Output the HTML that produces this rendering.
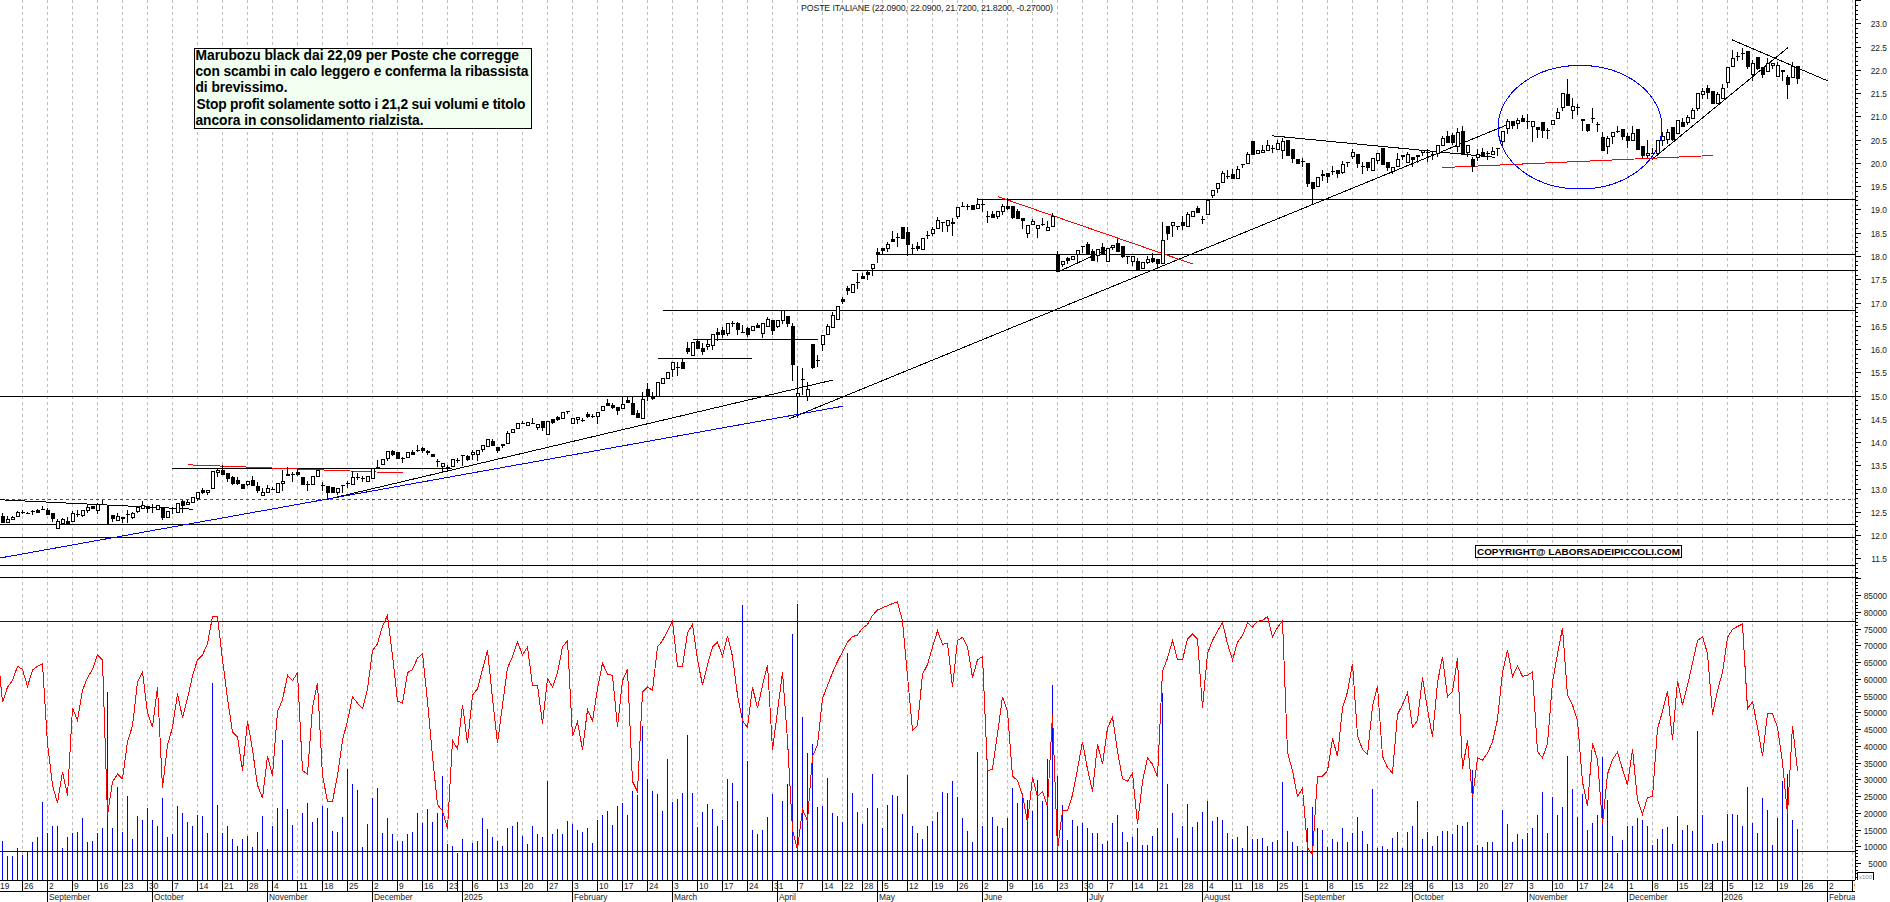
<!DOCTYPE html><html><head><meta charset="utf-8"><style>html,body{margin:0;padding:0;background:#fff;width:1890px;height:902px;overflow:hidden}svg{display:block}text{font-family:"Liberation Sans",sans-serif}</style></head><body>
<svg width="1890" height="902" viewBox="0 0 1890 902">
<rect x="0" y="0" width="1890" height="902" fill="#fff"/>
<path d="M22.5 0V880M47.5 0V880M72.5 0V880M97.5 0V880M122.5 0V880M147.5 0V880M172.5 0V880M197.5 0V880M222.5 0V880M247.5 0V880M272.5 0V880M297.5 0V880M322.5 0V880M347.5 0V880M372.5 0V880M397.5 0V880M422.5 0V880M447.5 0V880M472.5 0V880M497.5 0V880M522.5 0V880M547.5 0V880M572.5 0V880M597.5 0V880M622.5 0V880M647.5 0V880M672.5 0V880M697.5 0V880M722.5 0V880M747.5 0V880M772.5 0V880M797.5 0V880M822.5 0V880M842.5 0V880M862.5 0V880M882.5 0V880M907.5 0V880M932.5 0V880M957.5 0V880M982.5 0V880M1007.5 0V880M1032.5 0V880M1057.5 0V880M1082.5 0V880M1107.5 0V880M1132.5 0V880M1157.5 0V880M1182.5 0V880M1207.5 0V880M1232.5 0V880M1252.5 0V880M1277.5 0V880M1302.5 0V880M1327.5 0V880M1352.5 0V880M1377.5 0V880M1402.5 0V880M1427.5 0V880M1452.5 0V880M1477.5 0V880M1502.5 0V880M1527.5 0V880M1552.5 0V880M1577.5 0V880M1602.5 0V880M1627.5 0V880M1652.5 0V880M1677.5 0V880M1702.5 0V880M1727.5 0V880M1752.5 0V880M1777.5 0V880M1802.5 0V880M1827.5 0V880M1852.5 0V880" stroke="#bdbdbd" stroke-width="1" stroke-dasharray="3 3" fill="none" shape-rendering="crispEdges"/>
<path d="M0 396.5H1855M0 524.5H1855M0 537.5H1855M0 565.5H1855M0 577.5H1855M663 310.5H1855M977 199.5H1855M877 254.5H1855M852 270.5H1855M693 339.5H818M658 358.5H752M172 468.5H452" stroke="#000" stroke-width="1" fill="none" shape-rendering="crispEdges"/>
<path d="M0 499.5H1855" stroke="#f00" stroke-width="1" stroke-dasharray="3 3" fill="none" shape-rendering="crispEdges"/>
<line x1="0" y1="499.78" x2="193" y2="509.2" stroke="#000" stroke-width="1" shape-rendering="crispEdges"/>
<line x1="328" y1="499.2" x2="833" y2="380" stroke="#000" stroke-width="1" shape-rendering="crispEdges"/>
<line x1="788.5" y1="419.1" x2="1507" y2="124.9" stroke="#000" stroke-width="1" shape-rendering="crispEdges"/>
<line x1="1059.5" y1="271.2" x2="1113" y2="246.7" stroke="#000" stroke-width="1" shape-rendering="crispEdges"/>
<line x1="1272" y1="135.8" x2="1495" y2="157.3" stroke="#000" stroke-width="1" shape-rendering="crispEdges"/>
<line x1="1652" y1="159.4" x2="1788" y2="47.6" stroke="#000" stroke-width="1" shape-rendering="crispEdges"/>
<line x1="1732" y1="39.8" x2="1828" y2="81" stroke="#000" stroke-width="1" shape-rendering="crispEdges"/>
<line x1="0" y1="558" x2="843" y2="406.2" stroke="#00f" stroke-width="1" shape-rendering="crispEdges"/>
<line x1="188" y1="464.8" x2="402.5" y2="473" stroke="#f00" stroke-width="1" shape-rendering="crispEdges"/>
<line x1="998" y1="196.7" x2="1193" y2="264.1" stroke="#f00" stroke-width="1" shape-rendering="crispEdges"/>
<line x1="1442" y1="167.6" x2="1713" y2="155.5" stroke="#f00" stroke-width="1" shape-rendering="crispEdges"/>
<ellipse cx="1580" cy="127.2" rx="82" ry="61.8" fill="none" stroke="#00f" stroke-width="1" shape-rendering="crispEdges"/>
<g shape-rendering="crispEdges">
<path d="M2.5 513V516M7.5 516V519M12.5 516V517M17.5 511V512M22.5 510V512M22.5 512V514M27.5 512V513M32.5 510V511M32.5 511V515M37.5 509V510M42.5 506V509M47.5 508V510M52.5 518V522M57.5 519V521M62.5 518V519M67.5 517V521M67.5 523V525M72.5 511V513M77.5 510V514M77.5 514V517M82.5 515V517M87.5 505V507M87.5 510V513M97.5 503V504M97.5 510V514M102.5 500V504M112.5 518V522M117.5 513V516M122.5 518V523M127.5 510V514M127.5 514V523M132.5 512V513M132.5 517V519M137.5 511V513M142.5 501V505M147.5 508V513M152.5 504V507M152.5 507V513M162.5 517V520M172.5 507V508M172.5 508V514M182.5 500V501M182.5 505V513M187.5 500V502M197.5 498V501M202.5 488V490M202.5 492V494M207.5 492V495M217.5 468V470M217.5 472V477M222.5 465V470M227.5 478V482M232.5 476V477M232.5 483V485M237.5 477V480M237.5 483V485M247.5 484V486M252.5 476V480M257.5 482V486M257.5 490V493M262.5 488V492M267.5 485V488M272.5 487V489M282.5 470V481M282.5 483V491M287.5 467V474M292.5 472V474M292.5 474V482M297.5 469V472M297.5 474V476M307.5 481V484M307.5 484V491M322.5 482V485M322.5 485V491M327.5 492V500M337.5 492V495M342.5 485V493M347.5 481V483M347.5 483V488M352.5 471V477M357.5 473V477M357.5 477V480M362.5 476V478M362.5 478V482M377.5 460V467M387.5 458V461M392.5 450V451M392.5 454V456M402.5 457V458M402.5 458V463M412.5 450V452M417.5 445V450M417.5 450V452M422.5 447V448M422.5 450V453M427.5 450V451M427.5 452V455M437.5 459V461M437.5 461V467M442.5 466V473M447.5 465V467M447.5 467V472M457.5 458V460M457.5 460V463M462.5 455V466M467.5 455V456M467.5 459V461M472.5 450V452M472.5 454V460M477.5 454V461M482.5 449V452M492.5 439V441M497.5 450V453M502.5 445V448M507.5 431V433M522.5 421V423M532.5 418V423M537.5 427V430M542.5 427V431M552.5 422V424M557.5 416V417M557.5 419V421M567.5 411V414M577.5 418V424M582.5 418V420M582.5 420V422M587.5 412V414M587.5 416V418M592.5 414V416M592.5 416V418M597.5 416V424M607.5 399V403M612.5 403V405M612.5 407V409M617.5 410V415M622.5 397V404M627.5 396V400M632.5 397V403M637.5 410V413M642.5 392V399M647.5 383V389M647.5 396V401M652.5 392V396M652.5 398V400M672.5 369V377M677.5 362V367M677.5 367V376M682.5 358V362M687.5 342V348M687.5 351V354M697.5 340V341M702.5 343V348M702.5 351V355M707.5 339V344M707.5 346V350M712.5 345V350M717.5 328V332M717.5 334V341M722.5 327V330M722.5 334V338M727.5 333V336M732.5 321V323M732.5 323V327M737.5 322V323M737.5 329V335M742.5 325V332M747.5 327V328M747.5 334V337M757.5 323V325M762.5 333V338M767.5 317V319M772.5 330V335M777.5 326V328M782.5 320V324M787.5 323V327M792.5 323V326M792.5 364V381M797.5 366V393M797.5 396V418M802.5 368V379M802.5 379V395M807.5 382V389M807.5 396V401M812.5 367V369M817.5 355V360M817.5 360V367M822.5 344V351M827.5 324V326M832.5 312V315M842.5 297V299M842.5 301V304M847.5 286V288M847.5 290V295M857.5 273V282M857.5 282V289M862.5 273V276M867.5 271V272M867.5 274V280M872.5 268V276M877.5 248V252M877.5 254V263M882.5 250V255M887.5 242V244M887.5 248V252M892.5 231V239M897.5 233V237M897.5 237V247M907.5 227V232M907.5 244V256M912.5 244V248M912.5 248V254M917.5 242V246M917.5 248V251M927.5 231V235M927.5 235V239M932.5 227V229M932.5 233V236M937.5 217V220M942.5 222V232M947.5 225V232M952.5 218V222M952.5 223V236M957.5 216V219M962.5 202V206M967.5 204V206M967.5 206V210M977.5 198V204M982.5 199V204M982.5 204V212M987.5 211V216M987.5 216V223M992.5 211V214M997.5 216V219M1002.5 204V206M1002.5 211V215M1007.5 198V206M1007.5 208V210M1012.5 217V219M1017.5 209V211M1022.5 220V229M1027.5 233V238M1032.5 219V221M1037.5 228V238M1042.5 218V224M1042.5 224V226M1047.5 221V227M1052.5 213V216M1057.5 251V255M1062.5 264V267M1067.5 257V258M1067.5 260V264M1077.5 254V264M1082.5 246V253M1087.5 242V244M1092.5 249V251M1097.5 255V262M1102.5 243V247M1112.5 247V250M1117.5 239V243M1122.5 256V258M1127.5 256V264M1132.5 261V266M1137.5 258V261M1147.5 256V259M1147.5 262V264M1152.5 253V258M1152.5 261V263M1157.5 263V268M1162.5 222V240M1167.5 233V240M1172.5 225V237M1177.5 226V230M1182.5 216V222M1182.5 225V230M1187.5 212V214M1197.5 206V208M1202.5 216V219M1202.5 219V224M1212.5 195V198M1217.5 188V193M1222.5 171V173M1227.5 170V176M1227.5 176V179M1232.5 169V174M1237.5 166V169M1242.5 164V168M1247.5 152V154M1262.5 145V150M1267.5 140V145M1272.5 145V148M1272.5 148V153M1277.5 140V143M1282.5 138V141M1282.5 150V159M1292.5 158V163M1302.5 158V161M1302.5 161V167M1307.5 183V187M1312.5 188V204M1322.5 170V174M1322.5 175V181M1327.5 176V183M1332.5 166V171M1332.5 171V175M1337.5 173V178M1342.5 161V164M1342.5 172V174M1347.5 162V167M1352.5 149V152M1352.5 156V159M1357.5 163V168M1362.5 162V166M1362.5 166V174M1367.5 167V171M1377.5 160V164M1387.5 167V171M1392.5 171V174M1397.5 153V159M1402.5 156V160M1407.5 152V154M1412.5 159V167M1417.5 156V163M1422.5 152V156M1427.5 149V152M1427.5 152V162M1432.5 152V154M1432.5 154V160M1437.5 153V157M1442.5 136V138M1447.5 131V136M1452.5 133V135M1452.5 142V145M1457.5 128V132M1457.5 146V152M1462.5 126V131M1467.5 152V157M1472.5 157V159M1472.5 166V172M1477.5 149V154M1477.5 157V161M1482.5 148V152M1487.5 151V153M1487.5 153V160M1492.5 147V151M1497.5 148V156M1502.5 141V146M1507.5 119V121M1507.5 128V134M1512.5 125V129M1517.5 118V120M1517.5 123V129M1522.5 115V118M1527.5 114V121M1527.5 121V129M1532.5 126V142M1537.5 129V138M1542.5 130V138M1547.5 128V130M1547.5 130V139M1557.5 108V112M1562.5 107V111M1567.5 79V94M1572.5 98V106M1572.5 110V119M1577.5 104V107M1577.5 107V115M1582.5 120V131M1587.5 130V132M1592.5 108V118M1592.5 118V123M1597.5 122V124M1597.5 124V132M1602.5 132V137M1607.5 136V138M1607.5 146V154M1612.5 136V144M1617.5 126V131M1617.5 131V133M1622.5 136V140M1627.5 133V136M1627.5 140V148M1632.5 126V133M1642.5 155V158M1647.5 140V153M1647.5 154V158M1652.5 148V153M1662.5 132V136M1662.5 140V146M1667.5 129V132M1667.5 139V144M1672.5 139V141M1682.5 118V122M1687.5 115V117M1687.5 122V125M1692.5 108V110M1697.5 108V111M1702.5 88V91M1702.5 94V99M1707.5 85V88M1707.5 92V99M1717.5 92V94M1722.5 84V88M1727.5 82V88M1732.5 50V58M1737.5 52V56M1737.5 56V61M1742.5 48V53M1742.5 53V60M1747.5 66V69M1752.5 60V63M1752.5 74V81M1757.5 68V70M1762.5 74V78M1767.5 58V63M1772.5 65V69M1777.5 62V65M1782.5 71V81M1787.5 75V77M1787.5 84V99M1792.5 62V66M1797.5 78V84" stroke="#000" stroke-width="1" fill="none"/>
<path d="M1 516h4v7h-4zM21 512h4v1h-4zM26 513h4v1h-4zM31 511h4v1h-4zM36 510h4v3h-4zM41 509h4v1h-4zM46 510h4v5h-4zM51 513h4v6h-4zM66 521h4v3h-4zM76 514h4v1h-4zM91 506h4v3h-4zM101 504h4v1h-4zM107 505h2v19h-2zM111 515h4v4h-4zM121 517h4v2h-4zM126 514h4v1h-4zM146 506h4v3h-4zM151 507h4v1h-4zM161 507h4v11h-4zM171 508h4v1h-4zM181 501h4v5h-4zM201 490h4v3h-4zM221 470h4v5h-4zM226 473h4v6h-4zM231 477h4v7h-4zM236 480h4v4h-4zM241 484h4v5h-4zM251 480h4v6h-4zM256 486h4v5h-4zM271 489h4v1h-4zM286 474h4v2h-4zM291 474h4v1h-4zM296 472h4v3h-4zM301 477h4v8h-4zM306 484h4v1h-4zM321 485h4v1h-4zM326 486h4v7h-4zM331 487h4v6h-4zM341 485h4v1h-4zM346 483h4v1h-4zM356 477h4v1h-4zM361 478h4v1h-4zM376 467h4v2h-4zM391 451h4v4h-4zM396 452h4v7h-4zM401 458h4v1h-4zM411 452h4v3h-4zM416 450h4v1h-4zM421 448h4v3h-4zM426 451h4v2h-4zM431 454h4v3h-4zM436 461h4v1h-4zM446 467h4v1h-4zM456 460h4v1h-4zM461 455h4v1h-4zM466 456h4v4h-4zM491 441h4v5h-4zM496 447h4v4h-4zM501 444h4v2h-4zM521 423h4v1h-4zM531 423h4v1h-4zM541 421h4v7h-4zM551 419h4v4h-4zM556 417h4v3h-4zM566 411h4v1h-4zM581 420h4v1h-4zM586 414h4v3h-4zM591 416h4v1h-4zM606 403h4v3h-4zM611 405h4v3h-4zM616 407h4v4h-4zM626 400h4v3h-4zM631 403h4v12h-4zM636 413h4v5h-4zM646 389h4v8h-4zM651 396h4v3h-4zM676 367h4v1h-4zM681 362h4v7h-4zM686 348h4v4h-4zM696 341h4v8h-4zM701 348h4v4h-4zM716 332h4v3h-4zM721 330h4v5h-4zM731 323h4v1h-4zM736 323h4v7h-4zM741 332h4v1h-4zM746 328h4v7h-4zM756 325h4v3h-4zM771 320h4v11h-4zM786 316h4v8h-4zM791 326h4v39h-4zM801 379h4v1h-4zM811 344h4v24h-4zM816 360h4v1h-4zM841 299h4v3h-4zM846 288h4v3h-4zM856 282h4v1h-4zM861 276h4v3h-4zM866 272h4v3h-4zM876 252h4v3h-4zM881 248h4v3h-4zM891 239h4v3h-4zM896 237h4v1h-4zM901 227h4v12h-4zM906 232h4v13h-4zM911 248h4v1h-4zM916 246h4v3h-4zM926 235h4v1h-4zM941 222h4v1h-4zM951 222h4v2h-4zM961 206h4v1h-4zM966 206h4v1h-4zM971 205h4v5h-4zM981 204h4v1h-4zM986 216h4v1h-4zM991 214h4v4h-4zM1006 206h4v3h-4zM1011 206h4v12h-4zM1016 211h4v8h-4zM1021 218h4v3h-4zM1041 224h4v1h-4zM1056 255h4v17h-4zM1066 258h4v3h-4zM1081 246h4v1h-4zM1086 244h4v11h-4zM1091 251h4v10h-4zM1101 247h4v8h-4zM1116 243h4v9h-4zM1121 246h4v11h-4zM1126 256h4v1h-4zM1136 261h4v9h-4zM1151 258h4v4h-4zM1156 259h4v5h-4zM1166 226h4v8h-4zM1176 226h4v1h-4zM1181 222h4v4h-4zM1196 208h4v5h-4zM1201 219h4v1h-4zM1226 176h4v1h-4zM1231 174h4v5h-4zM1241 164h4v1h-4zM1251 141h4v14h-4zM1271 148h4v1h-4zM1286 140h4v16h-4zM1291 149h4v10h-4zM1296 159h4v5h-4zM1301 161h4v1h-4zM1306 163h4v21h-4zM1311 182h4v7h-4zM1321 174h4v2h-4zM1326 173h4v4h-4zM1331 171h4v1h-4zM1336 170h4v4h-4zM1346 162h4v1h-4zM1356 154h4v10h-4zM1361 166h4v1h-4zM1366 162h4v6h-4zM1381 148h4v17h-4zM1386 162h4v6h-4zM1401 155h4v2h-4zM1411 157h4v3h-4zM1416 155h4v2h-4zM1426 152h4v1h-4zM1431 154h4v1h-4zM1446 136h4v7h-4zM1451 135h4v8h-4zM1461 131h4v23h-4zM1471 159h4v8h-4zM1481 152h4v5h-4zM1486 153h4v1h-4zM1496 148h4v1h-4zM1511 121h4v5h-4zM1521 118h4v4h-4zM1526 121h4v1h-4zM1536 127h4v3h-4zM1541 122h4v9h-4zM1546 130h4v1h-4zM1566 94h4v12h-4zM1576 107h4v1h-4zM1581 119h4v2h-4zM1586 124h4v7h-4zM1591 118h4v1h-4zM1596 124h4v1h-4zM1601 137h4v14h-4zM1616 131h4v1h-4zM1621 129h4v8h-4zM1626 136h4v5h-4zM1636 129h4v21h-4zM1641 146h4v10h-4zM1651 153h4v1h-4zM1671 127h4v13h-4zM1681 122h4v5h-4zM1706 88h4v5h-4zM1711 91h4v13h-4zM1736 56h4v1h-4zM1741 53h4v1h-4zM1746 51h4v16h-4zM1756 57h4v12h-4zM1761 67h4v8h-4zM1781 70h4v2h-4zM1786 77h4v8h-4zM1796 66h4v13h-4z" fill="#000"/>
<rect x="6.5" y="519.5" width="3" height="3" fill="#fff" stroke="#000" stroke-width="1"/><rect x="11.5" y="517.5" width="3" height="2" fill="#fff" stroke="#000" stroke-width="1"/><rect x="16.5" y="512.5" width="3" height="4" fill="#fff" stroke="#000" stroke-width="1"/><rect x="56.5" y="521.5" width="3" height="7" fill="#fff" stroke="#000" stroke-width="1"/><rect x="61.5" y="519.5" width="3" height="4" fill="#fff" stroke="#000" stroke-width="1"/><rect x="71.5" y="513.5" width="3" height="8" fill="#fff" stroke="#000" stroke-width="1"/><rect x="81.5" y="510.5" width="3" height="5" fill="#fff" stroke="#000" stroke-width="1"/><rect x="86.5" y="507.5" width="3" height="3" fill="#fff" stroke="#000" stroke-width="1"/><rect x="96.5" y="504.5" width="3" height="6" fill="#fff" stroke="#000" stroke-width="1"/><rect x="116.5" y="516.5" width="3" height="4" fill="#fff" stroke="#000" stroke-width="1"/><rect x="131.5" y="513.5" width="3" height="4" fill="#fff" stroke="#000" stroke-width="1"/><rect x="136.5" y="507.5" width="3" height="4" fill="#fff" stroke="#000" stroke-width="1"/><rect x="141.5" y="505.5" width="3" height="3" fill="#fff" stroke="#000" stroke-width="1"/><rect x="156.5" y="505.5" width="3" height="4" fill="#fff" stroke="#000" stroke-width="1"/><rect x="166.5" y="511.5" width="3" height="6" fill="#fff" stroke="#000" stroke-width="1"/><rect x="176.5" y="503.5" width="3" height="9" fill="#fff" stroke="#000" stroke-width="1"/><rect x="186.5" y="502.5" width="3" height="2" fill="#fff" stroke="#000" stroke-width="1"/><rect x="191.5" y="497.5" width="3" height="5" fill="#fff" stroke="#000" stroke-width="1"/><rect x="196.5" y="492.5" width="3" height="6" fill="#fff" stroke="#000" stroke-width="1"/><rect x="206.5" y="490.5" width="3" height="2" fill="#fff" stroke="#000" stroke-width="1"/><rect x="211.5" y="471.5" width="3" height="17" fill="#fff" stroke="#000" stroke-width="1"/><rect x="216.5" y="470.5" width="3" height="2" fill="#fff" stroke="#000" stroke-width="1"/><rect x="246.5" y="481.5" width="3" height="3" fill="#fff" stroke="#000" stroke-width="1"/><rect x="261.5" y="492.5" width="3" height="3" fill="#fff" stroke="#000" stroke-width="1"/><rect x="266.5" y="488.5" width="3" height="4" fill="#fff" stroke="#000" stroke-width="1"/><rect x="276.5" y="483.5" width="3" height="9" fill="#fff" stroke="#000" stroke-width="1"/><rect x="281.5" y="481.5" width="3" height="2" fill="#fff" stroke="#000" stroke-width="1"/><rect x="311.5" y="476.5" width="3" height="8" fill="#fff" stroke="#000" stroke-width="1"/><rect x="316.5" y="470.5" width="3" height="6" fill="#fff" stroke="#000" stroke-width="1"/><rect x="336.5" y="488.5" width="3" height="4" fill="#fff" stroke="#000" stroke-width="1"/><rect x="351.5" y="477.5" width="3" height="7" fill="#fff" stroke="#000" stroke-width="1"/><rect x="366.5" y="476.5" width="3" height="5" fill="#fff" stroke="#000" stroke-width="1"/><rect x="371.5" y="468.5" width="3" height="10" fill="#fff" stroke="#000" stroke-width="1"/><rect x="381.5" y="459.5" width="3" height="5" fill="#fff" stroke="#000" stroke-width="1"/><rect x="386.5" y="451.5" width="3" height="7" fill="#fff" stroke="#000" stroke-width="1"/><rect x="406.5" y="452.5" width="3" height="5" fill="#fff" stroke="#000" stroke-width="1"/><rect x="441.5" y="463.5" width="3" height="3" fill="#fff" stroke="#000" stroke-width="1"/><rect x="451.5" y="459.5" width="3" height="7" fill="#fff" stroke="#000" stroke-width="1"/><rect x="471.5" y="452.5" width="3" height="2" fill="#fff" stroke="#000" stroke-width="1"/><rect x="476.5" y="450.5" width="3" height="4" fill="#fff" stroke="#000" stroke-width="1"/><rect x="481.5" y="445.5" width="3" height="4" fill="#fff" stroke="#000" stroke-width="1"/><rect x="486.5" y="439.5" width="3" height="7" fill="#fff" stroke="#000" stroke-width="1"/><rect x="506.5" y="433.5" width="3" height="10" fill="#fff" stroke="#000" stroke-width="1"/><rect x="511.5" y="429.5" width="3" height="3" fill="#fff" stroke="#000" stroke-width="1"/><rect x="516.5" y="423.5" width="3" height="5" fill="#fff" stroke="#000" stroke-width="1"/><rect x="526.5" y="422.5" width="3" height="3" fill="#fff" stroke="#000" stroke-width="1"/><rect x="536.5" y="424.5" width="3" height="3" fill="#fff" stroke="#000" stroke-width="1"/><rect x="546.5" y="421.5" width="3" height="13" fill="#fff" stroke="#000" stroke-width="1"/><rect x="561.5" y="412.5" width="3" height="6" fill="#fff" stroke="#000" stroke-width="1"/><rect x="571.5" y="418.5" width="3" height="5" fill="#fff" stroke="#000" stroke-width="1"/><rect x="576.5" y="417.5" width="3" height="2" fill="#fff" stroke="#000" stroke-width="1"/><rect x="596.5" y="412.5" width="3" height="4" fill="#fff" stroke="#000" stroke-width="1"/><rect x="601.5" y="406.5" width="3" height="4" fill="#fff" stroke="#000" stroke-width="1"/><rect x="621.5" y="404.5" width="3" height="4" fill="#fff" stroke="#000" stroke-width="1"/><rect x="641.5" y="399.5" width="3" height="19" fill="#fff" stroke="#000" stroke-width="1"/><rect x="656.5" y="382.5" width="3" height="14" fill="#fff" stroke="#000" stroke-width="1"/><rect x="661.5" y="378.5" width="3" height="5" fill="#fff" stroke="#000" stroke-width="1"/><rect x="666.5" y="372.5" width="3" height="6" fill="#fff" stroke="#000" stroke-width="1"/><rect x="671.5" y="362.5" width="3" height="7" fill="#fff" stroke="#000" stroke-width="1"/><rect x="691.5" y="342.5" width="3" height="13" fill="#fff" stroke="#000" stroke-width="1"/><rect x="706.5" y="344.5" width="3" height="2" fill="#fff" stroke="#000" stroke-width="1"/><rect x="711.5" y="334.5" width="3" height="11" fill="#fff" stroke="#000" stroke-width="1"/><rect x="726.5" y="323.5" width="3" height="10" fill="#fff" stroke="#000" stroke-width="1"/><rect x="751.5" y="326.5" width="3" height="4" fill="#fff" stroke="#000" stroke-width="1"/><rect x="761.5" y="323.5" width="3" height="10" fill="#fff" stroke="#000" stroke-width="1"/><rect x="766.5" y="319.5" width="3" height="7" fill="#fff" stroke="#000" stroke-width="1"/><rect x="776.5" y="320.5" width="3" height="6" fill="#fff" stroke="#000" stroke-width="1"/><rect x="781.5" y="310.5" width="3" height="10" fill="#fff" stroke="#000" stroke-width="1"/><rect x="796.5" y="393.5" width="3" height="3" fill="#fff" stroke="#000" stroke-width="1"/><rect x="806.5" y="389.5" width="3" height="7" fill="#fff" stroke="#000" stroke-width="1"/><rect x="821.5" y="335.5" width="3" height="9" fill="#fff" stroke="#000" stroke-width="1"/><rect x="826.5" y="326.5" width="3" height="8" fill="#fff" stroke="#000" stroke-width="1"/><rect x="831.5" y="315.5" width="3" height="12" fill="#fff" stroke="#000" stroke-width="1"/><rect x="836.5" y="306.5" width="3" height="13" fill="#fff" stroke="#000" stroke-width="1"/><rect x="851.5" y="284.5" width="3" height="8" fill="#fff" stroke="#000" stroke-width="1"/><rect x="871.5" y="264.5" width="3" height="4" fill="#fff" stroke="#000" stroke-width="1"/><rect x="886.5" y="244.5" width="3" height="4" fill="#fff" stroke="#000" stroke-width="1"/><rect x="921.5" y="238.5" width="3" height="11" fill="#fff" stroke="#000" stroke-width="1"/><rect x="931.5" y="229.5" width="3" height="4" fill="#fff" stroke="#000" stroke-width="1"/><rect x="936.5" y="220.5" width="3" height="8" fill="#fff" stroke="#000" stroke-width="1"/><rect x="946.5" y="220.5" width="3" height="5" fill="#fff" stroke="#000" stroke-width="1"/><rect x="956.5" y="207.5" width="3" height="9" fill="#fff" stroke="#000" stroke-width="1"/><rect x="976.5" y="204.5" width="3" height="4" fill="#fff" stroke="#000" stroke-width="1"/><rect x="996.5" y="211.5" width="3" height="5" fill="#fff" stroke="#000" stroke-width="1"/><rect x="1001.5" y="206.5" width="3" height="5" fill="#fff" stroke="#000" stroke-width="1"/><rect x="1026.5" y="225.5" width="3" height="8" fill="#fff" stroke="#000" stroke-width="1"/><rect x="1031.5" y="221.5" width="3" height="3" fill="#fff" stroke="#000" stroke-width="1"/><rect x="1036.5" y="225.5" width="3" height="3" fill="#fff" stroke="#000" stroke-width="1"/><rect x="1046.5" y="227.5" width="3" height="3" fill="#fff" stroke="#000" stroke-width="1"/><rect x="1051.5" y="216.5" width="3" height="10" fill="#fff" stroke="#000" stroke-width="1"/><rect x="1061.5" y="261.5" width="3" height="3" fill="#fff" stroke="#000" stroke-width="1"/><rect x="1071.5" y="256.5" width="3" height="3" fill="#fff" stroke="#000" stroke-width="1"/><rect x="1076.5" y="250.5" width="3" height="4" fill="#fff" stroke="#000" stroke-width="1"/><rect x="1096.5" y="249.5" width="3" height="6" fill="#fff" stroke="#000" stroke-width="1"/><rect x="1106.5" y="248.5" width="3" height="13" fill="#fff" stroke="#000" stroke-width="1"/><rect x="1111.5" y="245.5" width="3" height="2" fill="#fff" stroke="#000" stroke-width="1"/><rect x="1131.5" y="256.5" width="3" height="5" fill="#fff" stroke="#000" stroke-width="1"/><rect x="1141.5" y="262.5" width="3" height="6" fill="#fff" stroke="#000" stroke-width="1"/><rect x="1146.5" y="259.5" width="3" height="3" fill="#fff" stroke="#000" stroke-width="1"/><rect x="1161.5" y="240.5" width="3" height="23" fill="#fff" stroke="#000" stroke-width="1"/><rect x="1171.5" y="222.5" width="3" height="3" fill="#fff" stroke="#000" stroke-width="1"/><rect x="1186.5" y="214.5" width="3" height="12" fill="#fff" stroke="#000" stroke-width="1"/><rect x="1191.5" y="211.5" width="3" height="5" fill="#fff" stroke="#000" stroke-width="1"/><rect x="1206.5" y="200.5" width="3" height="14" fill="#fff" stroke="#000" stroke-width="1"/><rect x="1211.5" y="190.5" width="3" height="5" fill="#fff" stroke="#000" stroke-width="1"/><rect x="1216.5" y="183.5" width="3" height="5" fill="#fff" stroke="#000" stroke-width="1"/><rect x="1221.5" y="173.5" width="3" height="9" fill="#fff" stroke="#000" stroke-width="1"/><rect x="1236.5" y="169.5" width="3" height="9" fill="#fff" stroke="#000" stroke-width="1"/><rect x="1246.5" y="154.5" width="3" height="9" fill="#fff" stroke="#000" stroke-width="1"/><rect x="1256.5" y="150.5" width="3" height="3" fill="#fff" stroke="#000" stroke-width="1"/><rect x="1261.5" y="150.5" width="3" height="2" fill="#fff" stroke="#000" stroke-width="1"/><rect x="1266.5" y="145.5" width="3" height="5" fill="#fff" stroke="#000" stroke-width="1"/><rect x="1276.5" y="143.5" width="3" height="6" fill="#fff" stroke="#000" stroke-width="1"/><rect x="1281.5" y="141.5" width="3" height="9" fill="#fff" stroke="#000" stroke-width="1"/><rect x="1316.5" y="177.5" width="3" height="9" fill="#fff" stroke="#000" stroke-width="1"/><rect x="1341.5" y="164.5" width="3" height="8" fill="#fff" stroke="#000" stroke-width="1"/><rect x="1351.5" y="152.5" width="3" height="4" fill="#fff" stroke="#000" stroke-width="1"/><rect x="1371.5" y="158.5" width="3" height="12" fill="#fff" stroke="#000" stroke-width="1"/><rect x="1376.5" y="153.5" width="3" height="7" fill="#fff" stroke="#000" stroke-width="1"/><rect x="1391.5" y="167.5" width="3" height="4" fill="#fff" stroke="#000" stroke-width="1"/><rect x="1396.5" y="159.5" width="3" height="7" fill="#fff" stroke="#000" stroke-width="1"/><rect x="1406.5" y="154.5" width="3" height="8" fill="#fff" stroke="#000" stroke-width="1"/><rect x="1421.5" y="150.5" width="3" height="2" fill="#fff" stroke="#000" stroke-width="1"/><rect x="1436.5" y="145.5" width="3" height="8" fill="#fff" stroke="#000" stroke-width="1"/><rect x="1441.5" y="138.5" width="3" height="7" fill="#fff" stroke="#000" stroke-width="1"/><rect x="1456.5" y="132.5" width="3" height="14" fill="#fff" stroke="#000" stroke-width="1"/><rect x="1466.5" y="145.5" width="3" height="7" fill="#fff" stroke="#000" stroke-width="1"/><rect x="1476.5" y="154.5" width="3" height="3" fill="#fff" stroke="#000" stroke-width="1"/><rect x="1491.5" y="151.5" width="3" height="3" fill="#fff" stroke="#000" stroke-width="1"/><rect x="1501.5" y="131.5" width="3" height="10" fill="#fff" stroke="#000" stroke-width="1"/><rect x="1506.5" y="121.5" width="3" height="7" fill="#fff" stroke="#000" stroke-width="1"/><rect x="1516.5" y="120.5" width="3" height="3" fill="#fff" stroke="#000" stroke-width="1"/><rect x="1531.5" y="121.5" width="3" height="5" fill="#fff" stroke="#000" stroke-width="1"/><rect x="1551.5" y="120.5" width="3" height="4" fill="#fff" stroke="#000" stroke-width="1"/><rect x="1556.5" y="112.5" width="3" height="6" fill="#fff" stroke="#000" stroke-width="1"/><rect x="1561.5" y="93.5" width="3" height="14" fill="#fff" stroke="#000" stroke-width="1"/><rect x="1571.5" y="106.5" width="3" height="4" fill="#fff" stroke="#000" stroke-width="1"/><rect x="1606.5" y="138.5" width="3" height="8" fill="#fff" stroke="#000" stroke-width="1"/><rect x="1611.5" y="132.5" width="3" height="4" fill="#fff" stroke="#000" stroke-width="1"/><rect x="1631.5" y="133.5" width="3" height="7" fill="#fff" stroke="#000" stroke-width="1"/><rect x="1646.5" y="153.5" width="3" height="2" fill="#fff" stroke="#000" stroke-width="1"/><rect x="1656.5" y="140.5" width="3" height="13" fill="#fff" stroke="#000" stroke-width="1"/><rect x="1661.5" y="136.5" width="3" height="4" fill="#fff" stroke="#000" stroke-width="1"/><rect x="1666.5" y="132.5" width="3" height="7" fill="#fff" stroke="#000" stroke-width="1"/><rect x="1676.5" y="120.5" width="3" height="13" fill="#fff" stroke="#000" stroke-width="1"/><rect x="1686.5" y="117.5" width="3" height="5" fill="#fff" stroke="#000" stroke-width="1"/><rect x="1691.5" y="110.5" width="3" height="8" fill="#fff" stroke="#000" stroke-width="1"/><rect x="1696.5" y="93.5" width="3" height="15" fill="#fff" stroke="#000" stroke-width="1"/><rect x="1701.5" y="91.5" width="3" height="3" fill="#fff" stroke="#000" stroke-width="1"/><rect x="1716.5" y="94.5" width="3" height="9" fill="#fff" stroke="#000" stroke-width="1"/><rect x="1721.5" y="88.5" width="3" height="10" fill="#fff" stroke="#000" stroke-width="1"/><rect x="1726.5" y="67.5" width="3" height="15" fill="#fff" stroke="#000" stroke-width="1"/><rect x="1731.5" y="58.5" width="3" height="8" fill="#fff" stroke="#000" stroke-width="1"/><rect x="1751.5" y="63.5" width="3" height="11" fill="#fff" stroke="#000" stroke-width="1"/><rect x="1766.5" y="63.5" width="3" height="8" fill="#fff" stroke="#000" stroke-width="1"/><rect x="1771.5" y="63.5" width="3" height="2" fill="#fff" stroke="#000" stroke-width="1"/><rect x="1776.5" y="65.5" width="3" height="11" fill="#fff" stroke="#000" stroke-width="1"/><rect x="1791.5" y="66.5" width="3" height="11" fill="#fff" stroke="#000" stroke-width="1"/>
</g>
<rect x="194.5" y="48.5" width="337" height="79.5" fill="#f0fff0" stroke="#000" stroke-width="1" shape-rendering="crispEdges"/>
<text x="195.5" y="60" font-size="13.8" font-weight="bold" fill="#000" textLength="323.5" lengthAdjust="spacing">Marubozu black dai 22,09 per Poste che corregge</text>
<text x="195.5" y="76" font-size="13.8" font-weight="bold" fill="#000" textLength="333" lengthAdjust="spacing">con scambi in calo leggero e conferma la ribassista</text>
<text x="195.5" y="92" font-size="13.8" font-weight="bold" fill="#000" textLength="92" lengthAdjust="spacing">di brevissimo.</text>
<text x="196.5" y="108.5" font-size="13.8" font-weight="bold" fill="#000" textLength="329" lengthAdjust="spacing">Stop profit solamente sotto i 21,2 sui volumi e titolo</text>
<text x="195.5" y="125" font-size="13.8" font-weight="bold" fill="#000" textLength="228" lengthAdjust="spacing">ancora in consolidamento rialzista.</text>
<rect x="1475.5" y="545.5" width="206" height="12" fill="#fff" stroke="#000" stroke-width="1" shape-rendering="crispEdges"/>
<text x="1477" y="554.5" font-size="9.6" font-weight="bold" fill="#000" textLength="203" lengthAdjust="spacingAndGlyphs">COPYRIGHT@ LABORSADEIPICCOLI.COM</text>
<text x="801" y="11" font-size="8.8" fill="#1a1a1a" textLength="252" lengthAdjust="spacing">POSTE ITALIANE (22.0900, 22.0900, 21.7200, 21.8200, -0.27000)</text>
<path d="M0 621.5H1855M0 851.5H1855" stroke="#00f" stroke-width="1" fill="none" shape-rendering="crispEdges"/>
<path d="M2.5 841V880M7.5 856V880M12.5 856V880M17.5 848V880M22.5 855V880M27.5 852V880M32.5 842V880M37.5 837V880M42.5 802V880M47.5 833V880M52.5 826V880M57.5 826V880M62.5 848V880M67.5 837V880M72.5 833V880M77.5 832V880M82.5 818V880M87.5 842V880M92.5 841V880M97.5 833V880M102.5 828V880M107.5 692V880M112.5 828V880M117.5 787V880M122.5 832V880M127.5 796V880M132.5 839V880M137.5 816V880M142.5 820V880M147.5 808V880M152.5 820V880M157.5 826V880M162.5 798V880M167.5 837V880M172.5 834V880M177.5 806V880M182.5 813V880M187.5 822V880M192.5 826V880M197.5 815V880M202.5 816V880M207.5 833V880M212.5 683V880M217.5 805V880M222.5 833V880M227.5 826V880M232.5 839V880M237.5 846V880M242.5 839V880M247.5 836V880M252.5 847V880M257.5 832V880M262.5 816V880M267.5 849V880M272.5 826V880M277.5 808V880M282.5 740V880M287.5 809V880M292.5 825V880M302.5 813V880M307.5 803V880M312.5 822V880M317.5 818V880M322.5 806V880M327.5 808V880M332.5 831V880M337.5 832V880M342.5 817V880M347.5 769V880M352.5 784V880M357.5 790V880M362.5 847V880M367.5 824V880M372.5 798V880M377.5 788V880M382.5 833V880M387.5 818V880M392.5 834V880M397.5 841V880M402.5 841V880M407.5 834V880M412.5 832V880M417.5 813V880M422.5 823V880M427.5 809V880M432.5 822V880M437.5 813V880M442.5 776V880M447.5 844V880M452.5 846V880M457.5 853V880M462.5 839V880M467.5 852V880M472.5 843V880M477.5 841V880M482.5 818V880M487.5 829V880M492.5 837V880M497.5 841V880M502.5 846V880M507.5 828V880M512.5 826V880M517.5 822V880M522.5 836V880M527.5 844V880M532.5 826V880M537.5 834V880M542.5 837V880M547.5 781V880M552.5 834V880M557.5 829V880M562.5 834V880M567.5 821V880M572.5 824V880M577.5 830V880M582.5 832V880M587.5 828V880M592.5 843V880M597.5 820V880M602.5 815V880M607.5 811V880M612.5 825V880M617.5 806V880M622.5 803V880M627.5 815V880M632.5 791V880M637.5 795V880M642.5 726V880M647.5 779V880M652.5 791V880M657.5 794V880M662.5 811V880M667.5 759V880M672.5 802V880M677.5 799V880M682.5 793V880M687.5 735V880M692.5 793V880M697.5 827V880M702.5 812V880M707.5 804V880M712.5 809V880M717.5 826V880M722.5 820V880M727.5 779V880M732.5 783V880M737.5 801V880M742.5 605V880M747.5 761V880M752.5 830V880M757.5 834V880M762.5 830V880M767.5 817V880M772.5 794V880M782.5 801V880M787.5 784V880M792.5 634V880M797.5 604V880M802.5 717V880M807.5 753V880M812.5 744V880M817.5 807V880M822.5 806V880M827.5 778V880M832.5 813V880M837.5 816V880M842.5 822V880M847.5 653V880M852.5 793V880M857.5 812V880M862.5 824V880M867.5 808V880M872.5 774V880M877.5 808V880M882.5 828V880M887.5 805V880M892.5 795V880M897.5 796V880M902.5 814V880M907.5 775V880M912.5 826V880M917.5 833V880M922.5 839V880M927.5 826V880M932.5 821V880M937.5 812V880M942.5 792V880M947.5 793V880M952.5 781V880M957.5 797V880M962.5 818V880M967.5 831V880M972.5 842V880M977.5 752V880M982.5 826V880M987.5 770V880M992.5 817V880M997.5 826V880M1002.5 828V880M1007.5 818V880M1012.5 788V880M1017.5 803V880M1022.5 798V880M1027.5 800V880M1032.5 811V880M1037.5 780V880M1042.5 801V880M1047.5 759V880M1052.5 685V880M1057.5 776V880M1062.5 805V880M1067.5 840V880M1072.5 820V880M1077.5 826V880M1082.5 823V880M1087.5 828V880M1092.5 833V880M1097.5 833V880M1102.5 844V880M1107.5 841V880M1112.5 823V880M1117.5 815V880M1122.5 832V880M1127.5 842V880M1132.5 837V880M1137.5 828V880M1142.5 845V880M1147.5 845V880M1152.5 836V880M1157.5 828V880M1162.5 693V880M1167.5 784V880M1172.5 813V880M1177.5 838V880M1182.5 826V880M1187.5 804V880M1192.5 827V880M1197.5 822V880M1202.5 812V880M1207.5 801V880M1212.5 821V880M1217.5 817V880M1222.5 820V880M1227.5 833V880M1232.5 839V880M1237.5 837V880M1242.5 848V880M1247.5 826V880M1252.5 839V880M1257.5 839V880M1262.5 838V880M1267.5 846V880M1272.5 842V880M1277.5 840V880M1282.5 782V880M1287.5 831V880M1292.5 842V880M1297.5 846V880M1302.5 850V880M1307.5 828V880M1312.5 807V880M1317.5 828V880M1322.5 830V880M1327.5 847V880M1332.5 839V880M1337.5 842V880M1342.5 828V880M1347.5 842V880M1352.5 833V880M1357.5 817V880M1362.5 831V880M1367.5 844V880M1372.5 789V880M1377.5 848V880M1382.5 846V880M1387.5 849V880M1392.5 838V880M1397.5 832V880M1402.5 848V880M1407.5 832V880M1412.5 826V880M1417.5 801V880M1422.5 839V880M1427.5 832V880M1432.5 846V880M1437.5 836V880M1442.5 831V880M1447.5 831V880M1452.5 834V880M1457.5 825V880M1462.5 826V880M1467.5 822V880M1472.5 770V880M1477.5 845V880M1482.5 847V880M1487.5 842V880M1492.5 842V880M1497.5 852V880M1502.5 810V880M1507.5 824V880M1512.5 842V880M1517.5 834V880M1522.5 839V880M1527.5 833V880M1532.5 828V880M1537.5 815V880M1542.5 792V880M1547.5 833V880M1552.5 797V880M1557.5 815V880M1562.5 807V880M1567.5 756V880M1572.5 789V880M1577.5 817V880M1582.5 794V880M1587.5 830V880M1592.5 823V880M1597.5 815V880M1602.5 757V880M1607.5 800V880M1612.5 836V880M1617.5 853V880M1622.5 840V880M1627.5 826V880M1632.5 826V880M1637.5 818V880M1642.5 820V880M1647.5 826V880M1652.5 845V880M1657.5 839V880M1662.5 829V880M1667.5 827V880M1672.5 844V880M1677.5 816V880M1682.5 830V880M1687.5 825V880M1692.5 831V880M1697.5 731V880M1702.5 815V880M1707.5 852V880M1712.5 844V880M1717.5 843V880M1722.5 841V880M1727.5 814V880M1732.5 814V880M1737.5 815V880M1742.5 826V880M1747.5 787V880M1752.5 823V880M1757.5 833V880M1762.5 798V880M1767.5 810V880M1772.5 845V880M1777.5 818V880M1782.5 781V880M1787.5 774V880M1792.5 820V880M1797.5 829V880" stroke="#00f" stroke-width="1" fill="none" shape-rendering="crispEdges"/>
<polyline points="-2.5,650 2.5,702.3 7.5,687.1 12.5,680.7 17.5,666.2 22.5,669.5 27.5,686.5 32.5,670.1 37.5,666.2 42.5,663.7 47.5,743.4 52.5,785.2 57.5,802.9 62.5,771.7 67.5,795.5 72.5,708 77.5,720.3 82.5,690.4 87.5,677.5 92.5,669.5 97.5,655 102.5,659.8 107.5,815.1 112.5,782 117.5,774 122.5,778.8 127.5,741.8 132.5,725.7 137.5,682.3 142.5,672 147.5,712.9 152.5,727.3 157.5,687.1 162.5,787.5 167.5,745 172.5,727.3 177.5,693.6 182.5,717.7 187.5,698.4 192.5,675.9 197.5,659.8 202.5,655 207.5,643.7 212.5,616.4 217.5,616.4 222.5,659.8 227.5,698.4 232.5,732.2 237.5,737 242.5,770.7 247.5,720.9 252.5,749.8 257.5,785.2 262.5,798.1 267.5,756.3 272.5,775.6 277.5,711.3 282.5,700 287.5,675.2 292.5,680.7 297.5,672.7 302.5,770.7 307.5,774 312.5,708 317.5,683 322.5,775.6 327.5,801.3 332.5,801.3 337.5,775.6 342.5,740.2 347.5,720.9 352.5,696.8 357.5,703.2 362.5,708.7 367.5,688.7 372.5,650.8 377.5,643.7 382.5,626 387.5,615.4 392.5,655.5 397.5,701 402.5,703.2 407.5,672.7 412.5,669.5 417.5,658.2 422.5,653.4 427.5,701.6 432.5,756.3 437.5,804.5 442.5,810.9 447.5,828.6 452.5,740.2 457.5,749.2 462.5,704.8 467.5,743.4 472.5,695.2 477.5,688.7 482.5,669.5 487.5,650.2 492.5,698.4 497.5,743.4 502.5,704.8 507.5,667.8 512.5,656.6 517.5,642.1 522.5,655 527.5,646.9 532.5,685.5 537.5,685.5 542.5,723.5 547.5,678.5 552.5,687.1 557.5,672.7 562.5,646.9 567.5,640.5 572.5,736.3 577.5,721.9 582.5,749.8 587.5,709.6 592.5,720.9 597.5,688.7 602.5,663 607.5,674.3 612.5,675.2 617.5,727.3 622.5,680.7 627.5,669.5 632.5,781.4 637.5,791.6 642.5,692 647.5,687.1 652.5,690.4 657.5,646.9 662.5,640.5 667.5,630.9 672.5,621.2 677.5,666.2 682.5,666.2 687.5,632.5 692.5,624.4 697.5,659.8 702.5,684.9 707.5,664.6 712.5,646.9 717.5,642.1 722.5,656.6 727.5,635.7 732.5,656.6 737.5,695.2 742.5,720.9 747.5,727.3 752.5,687.1 757.5,708 762.5,685.5 767.5,664.6 772.5,749.8 777.5,711.3 782.5,672 787.5,740.2 792.5,830.2 797.5,849.5 802.5,809.3 807.5,820.6 812.5,756.3 817.5,745 822.5,698.4 827.5,685.5 832.5,672.7 837.5,661.4 842.5,651.8 847.5,642.1 852.5,636.7 857.5,635 862.5,628.3 867.5,624.4 872.5,615.4 877.5,610 882.5,607.7 887.5,605.8 892.5,603.5 897.5,601.9 902.5,621.2 907.5,675.9 912.5,730.5 917.5,725.7 922.5,674.3 927.5,664.6 932.5,646.9 937.5,630.9 942.5,644.4 947.5,643.1 952.5,687.1 957.5,640.5 962.5,637.3 967.5,646.9 972.5,677.5 977.5,659.8 982.5,656.6 987.5,770.7 992.5,769.1 997.5,733.8 1002.5,696.8 1007.5,711.3 1012.5,776.2 1017.5,780.4 1022.5,794.9 1027.5,822.2 1032.5,777.2 1037.5,796.5 1042.5,791.6 1047.5,806.1 1052.5,714.5 1057.5,849.5 1062.5,810.9 1067.5,810.9 1072.5,794.9 1077.5,769.1 1082.5,741.8 1087.5,769.1 1092.5,791.6 1097.5,744.4 1102.5,764.3 1107.5,728 1112.5,717 1117.5,751.5 1122.5,778.8 1127.5,781.4 1132.5,773 1137.5,824.4 1142.5,781.4 1147.5,757.9 1152.5,764.3 1157.5,777.2 1162.5,671.1 1167.5,658.2 1172.5,640.5 1177.5,659.8 1182.5,659.8 1187.5,638.9 1192.5,634.1 1197.5,638.9 1202.5,708 1207.5,653.4 1212.5,640.5 1217.5,630.9 1222.5,622.8 1227.5,643.7 1232.5,659.8 1237.5,642.1 1242.5,635.7 1247.5,622.8 1252.5,627 1257.5,621.2 1262.5,620.6 1267.5,616.4 1272.5,636.7 1277.5,627.7 1282.5,620.6 1287.5,752.4 1292.5,770.7 1297.5,796.5 1302.5,788.4 1307.5,847.9 1312.5,854.3 1317.5,776.2 1322.5,776.2 1327.5,770.7 1332.5,738.6 1337.5,756.3 1342.5,708 1347.5,692 1352.5,663.7 1357.5,735.4 1362.5,749.8 1367.5,754.7 1372.5,706.4 1377.5,686.2 1382.5,756.3 1387.5,767.5 1392.5,773 1397.5,714.5 1402.5,704.8 1407.5,692.6 1412.5,727.3 1417.5,720.3 1422.5,677.5 1427.5,709.6 1432.5,737 1437.5,682.3 1442.5,656.6 1447.5,696.8 1452.5,691.3 1457.5,658.2 1462.5,769.1 1467.5,740.2 1472.5,798.1 1477.5,757.9 1482.5,760.1 1487.5,753.1 1492.5,741.8 1497.5,719.3 1502.5,672.7 1507.5,650.2 1512.5,676.5 1517.5,666.2 1522.5,676.5 1527.5,675.2 1532.5,672 1537.5,751.5 1542.5,757.9 1547.5,743.4 1552.5,682.3 1557.5,654 1562.5,627.7 1567.5,695.2 1572.5,704.8 1577.5,720.9 1582.5,782 1587.5,806.1 1592.5,743.4 1597.5,759.5 1602.5,823.8 1607.5,774 1612.5,759.5 1617.5,752.1 1622.5,769.1 1627.5,785.2 1632.5,749.2 1637.5,799.7 1642.5,814.1 1647.5,797.4 1652.5,796.5 1657.5,728.9 1662.5,711.3 1667.5,691.3 1672.5,740.2 1677.5,680.7 1682.5,704.8 1687.5,685.5 1692.5,663 1697.5,640.5 1702.5,636.7 1707.5,653.4 1712.5,714.5 1717.5,690.5 1722.5,672.5 1727.5,637.3 1732.5,629.5 1737.5,626.5 1742.5,624 1747.5,708.7 1752.5,701.6 1757.5,727.3 1762.5,756.3 1767.5,713.8 1772.5,713.8 1777.5,727.3 1782.5,762.7 1787.5,814.1 1792.5,725.7 1797.5,770.7" fill="none" stroke="#f00" stroke-width="1" shape-rendering="crispEdges"/>
<path d="M1855.5 0V880M1855 0.5H1861M1855 5.5H1858M1855 10.5H1858M1855 14.5H1858M1855 19.5H1858M1855 23.5H1861M1855 28.5H1858M1855 33.5H1858M1855 37.5H1858M1855 42.5H1858M1855 47.5H1861M1855 51.5H1858M1855 56.5H1858M1855 61.5H1858M1855 65.5H1858M1855 70.5H1861M1855 75.5H1858M1855 79.5H1858M1855 84.5H1858M1855 89.5H1858M1855 93.5H1861M1855 98.5H1858M1855 103.5H1858M1855 107.5H1858M1855 112.5H1858M1855 116.5H1861M1855 121.5H1858M1855 126.5H1858M1855 130.5H1858M1855 135.5H1858M1855 140.5H1861M1855 144.5H1858M1855 149.5H1858M1855 154.5H1858M1855 158.5H1858M1855 163.5H1861M1855 168.5H1858M1855 172.5H1858M1855 177.5H1858M1855 182.5H1858M1855 186.5H1861M1855 191.5H1858M1855 196.5H1858M1855 200.5H1858M1855 205.5H1858M1855 209.5H1861M1855 214.5H1858M1855 219.5H1858M1855 223.5H1858M1855 228.5H1858M1855 233.5H1861M1855 237.5H1858M1855 242.5H1858M1855 247.5H1858M1855 251.5H1858M1855 256.5H1861M1855 261.5H1858M1855 265.5H1858M1855 270.5H1858M1855 275.5H1858M1855 279.5H1861M1855 284.5H1858M1855 289.5H1858M1855 293.5H1858M1855 298.5H1858M1855 303.5H1861M1855 307.5H1858M1855 312.5H1858M1855 316.5H1858M1855 321.5H1858M1855 326.5H1861M1855 330.5H1858M1855 335.5H1858M1855 340.5H1858M1855 344.5H1858M1855 349.5H1861M1855 354.5H1858M1855 358.5H1858M1855 363.5H1858M1855 368.5H1858M1855 372.5H1861M1855 377.5H1858M1855 382.5H1858M1855 386.5H1858M1855 391.5H1858M1855 396.5H1861M1855 400.5H1858M1855 405.5H1858M1855 409.5H1858M1855 414.5H1858M1855 419.5H1861M1855 423.5H1858M1855 428.5H1858M1855 433.5H1858M1855 437.5H1858M1855 442.5H1861M1855 447.5H1858M1855 451.5H1858M1855 456.5H1858M1855 461.5H1858M1855 465.5H1861M1855 470.5H1858M1855 475.5H1858M1855 479.5H1858M1855 484.5H1858M1855 489.5H1861M1855 493.5H1858M1855 498.5H1858M1855 503.5H1858M1855 507.5H1858M1855 512.5H1861M1855 516.5H1858M1855 521.5H1858M1855 526.5H1858M1855 530.5H1858M1855 535.5H1861M1855 540.5H1858M1855 544.5H1858M1855 549.5H1858M1855 554.5H1858M1855 558.5H1861M1855 563.5H1858M1855 568.5H1858M1855 572.5H1858M1855 577.5H1858M1855 877.5H1858M1855 873.5H1858M1855 870.5H1858M1855 866.5H1858M1855 863.5H1861M1855 860.5H1858M1855 856.5H1858M1855 853.5H1858M1855 850.5H1858M1855 846.5H1861M1855 843.5H1858M1855 840.5H1858M1855 836.5H1858M1855 833.5H1858M1855 830.5H1861M1855 826.5H1858M1855 823.5H1858M1855 820.5H1858M1855 816.5H1858M1855 813.5H1861M1855 810.5H1858M1855 806.5H1858M1855 803.5H1858M1855 799.5H1858M1855 796.5H1861M1855 793.5H1858M1855 789.5H1858M1855 786.5H1858M1855 783.5H1858M1855 779.5H1861M1855 776.5H1858M1855 773.5H1858M1855 769.5H1858M1855 766.5H1858M1855 763.5H1861M1855 759.5H1858M1855 756.5H1858M1855 753.5H1858M1855 749.5H1858M1855 746.5H1861M1855 742.5H1858M1855 739.5H1858M1855 736.5H1858M1855 732.5H1858M1855 729.5H1861M1855 726.5H1858M1855 722.5H1858M1855 719.5H1858M1855 716.5H1858M1855 712.5H1861M1855 709.5H1858M1855 706.5H1858M1855 702.5H1858M1855 699.5H1858M1855 696.5H1861M1855 692.5H1858M1855 689.5H1858M1855 685.5H1858M1855 682.5H1858M1855 679.5H1861M1855 675.5H1858M1855 672.5H1858M1855 669.5H1858M1855 665.5H1858M1855 662.5H1861M1855 659.5H1858M1855 655.5H1858M1855 652.5H1858M1855 649.5H1858M1855 645.5H1861M1855 642.5H1858M1855 639.5H1858M1855 635.5H1858M1855 632.5H1858M1855 629.5H1861M1855 625.5H1858M1855 622.5H1858M1855 618.5H1858M1855 615.5H1858M1855 612.5H1861M1855 608.5H1858M1855 605.5H1858M1855 602.5H1858M1855 598.5H1858M1855 595.5H1861M1855 592.5H1858M1855 588.5H1858M1855 585.5H1858M1855 582.5H1858M1855 578.5H1861" stroke="#000" stroke-width="1" fill="none" shape-rendering="crispEdges"/>
<text x="1887" y="27" font-size="8.4" fill="#1a1a1a" text-anchor="end">23.0</text><text x="1887" y="51" font-size="8.4" fill="#1a1a1a" text-anchor="end">22.5</text><text x="1887" y="74" font-size="8.4" fill="#1a1a1a" text-anchor="end">22.0</text><text x="1887" y="97" font-size="8.4" fill="#1a1a1a" text-anchor="end">21.5</text><text x="1887" y="120" font-size="8.4" fill="#1a1a1a" text-anchor="end">21.0</text><text x="1887" y="144" font-size="8.4" fill="#1a1a1a" text-anchor="end">20.5</text><text x="1887" y="167" font-size="8.4" fill="#1a1a1a" text-anchor="end">20.0</text><text x="1887" y="190" font-size="8.4" fill="#1a1a1a" text-anchor="end">19.5</text><text x="1887" y="213" font-size="8.4" fill="#1a1a1a" text-anchor="end">19.0</text><text x="1887" y="237" font-size="8.4" fill="#1a1a1a" text-anchor="end">18.5</text><text x="1887" y="260" font-size="8.4" fill="#1a1a1a" text-anchor="end">18.0</text><text x="1887" y="283" font-size="8.4" fill="#1a1a1a" text-anchor="end">17.5</text><text x="1887" y="307" font-size="8.4" fill="#1a1a1a" text-anchor="end">17.0</text><text x="1887" y="330" font-size="8.4" fill="#1a1a1a" text-anchor="end">16.5</text><text x="1887" y="353" font-size="8.4" fill="#1a1a1a" text-anchor="end">16.0</text><text x="1887" y="376" font-size="8.4" fill="#1a1a1a" text-anchor="end">15.5</text><text x="1887" y="400" font-size="8.4" fill="#1a1a1a" text-anchor="end">15.0</text><text x="1887" y="423" font-size="8.4" fill="#1a1a1a" text-anchor="end">14.5</text><text x="1887" y="446" font-size="8.4" fill="#1a1a1a" text-anchor="end">14.0</text><text x="1887" y="469" font-size="8.4" fill="#1a1a1a" text-anchor="end">13.5</text><text x="1887" y="493" font-size="8.4" fill="#1a1a1a" text-anchor="end">13.0</text><text x="1887" y="516" font-size="8.4" fill="#1a1a1a" text-anchor="end">12.5</text><text x="1887" y="539" font-size="8.4" fill="#1a1a1a" text-anchor="end">12.0</text><text x="1887" y="562" font-size="8.4" fill="#1a1a1a" text-anchor="end">11.5</text><text x="1887" y="867" font-size="8.4" fill="#1a1a1a" text-anchor="end">5000</text><text x="1887" y="850" font-size="8.4" fill="#1a1a1a" text-anchor="end">10000</text><text x="1887" y="834" font-size="8.4" fill="#1a1a1a" text-anchor="end">15000</text><text x="1887" y="817" font-size="8.4" fill="#1a1a1a" text-anchor="end">20000</text><text x="1887" y="800" font-size="8.4" fill="#1a1a1a" text-anchor="end">25000</text><text x="1887" y="783" font-size="8.4" fill="#1a1a1a" text-anchor="end">30000</text><text x="1887" y="767" font-size="8.4" fill="#1a1a1a" text-anchor="end">35000</text><text x="1887" y="750" font-size="8.4" fill="#1a1a1a" text-anchor="end">40000</text><text x="1887" y="733" font-size="8.4" fill="#1a1a1a" text-anchor="end">45000</text><text x="1887" y="716" font-size="8.4" fill="#1a1a1a" text-anchor="end">50000</text><text x="1887" y="700" font-size="8.4" fill="#1a1a1a" text-anchor="end">55000</text><text x="1887" y="683" font-size="8.4" fill="#1a1a1a" text-anchor="end">60000</text><text x="1887" y="666" font-size="8.4" fill="#1a1a1a" text-anchor="end">65000</text><text x="1887" y="649" font-size="8.4" fill="#1a1a1a" text-anchor="end">70000</text><text x="1887" y="633" font-size="8.4" fill="#1a1a1a" text-anchor="end">75000</text><text x="1887" y="616" font-size="8.4" fill="#1a1a1a" text-anchor="end">80000</text><text x="1887" y="599" font-size="8.4" fill="#1a1a1a" text-anchor="end">85000</text>
<path d="M1857.5 880V872.5H1873.5V880" stroke="#000" stroke-width="1" fill="none" shape-rendering="crispEdges"/>
<text x="1859" y="879" font-size="6" fill="#888">x100</text>
<defs><clipPath id="dc"><rect x="0" y="880" width="1855" height="22"/></clipPath></defs>
<g clip-path="url(#dc)">
<path d="M0 880.5H1856M0 891.5H1856M22.5 880V891M47.5 880V891M72.5 880V891M97.5 880V891M122.5 880V891M147.5 880V891M172.5 880V891M197.5 880V891M222.5 880V891M247.5 880V891M272.5 880V891M297.5 880V891M322.5 880V891M347.5 880V891M372.5 880V891M397.5 880V891M422.5 880V891M447.5 880V891M457.5 880V891M472.5 880V891M497.5 880V891M522.5 880V891M547.5 880V891M572.5 880V891M597.5 880V891M622.5 880V891M647.5 880V891M672.5 880V891M697.5 880V891M722.5 880V891M747.5 880V891M772.5 880V891M797.5 880V891M822.5 880V891M842.5 880V891M862.5 880V891M882.5 880V891M907.5 880V891M932.5 880V891M957.5 880V891M982.5 880V891M1007.5 880V891M1032.5 880V891M1057.5 880V891M1082.5 880V891M1107.5 880V891M1132.5 880V891M1157.5 880V891M1182.5 880V891M1207.5 880V891M1232.5 880V891M1252.5 880V891M1277.5 880V891M1302.5 880V891M1327.5 880V891M1352.5 880V891M1377.5 880V891M1402.5 880V891M1427.5 880V891M1452.5 880V891M1477.5 880V891M1502.5 880V891M1527.5 880V891M1552.5 880V891M1577.5 880V891M1602.5 880V891M1627.5 880V891M1652.5 880V891M1677.5 880V891M1702.5 880V891M1712.5 880V891M1727.5 880V891M1752.5 880V891M1777.5 880V891M1802.5 880V891M1827.5 880V891M1852.5 880V891M47.5 880V902M152.5 880V902M267.5 880V902M372.5 880V902M462.5 880V902M572.5 880V902M672.5 880V902M777.5 880V902M877.5 880V902M982.5 880V902M1087.5 880V902M1202.5 880V902M1302.5 880V902M1412.5 880V902M1527.5 880V902M1627.5 880V902M1722.5 880V902M1827.5 880V902" stroke="#000" stroke-width="1" fill="none" shape-rendering="crispEdges"/>
<text x="0" y="889" font-size="8.4" fill="#1a1a1a">19</text><text x="24" y="889" font-size="8.4" fill="#1a1a1a">26</text><text x="49" y="889" font-size="8.4" fill="#1a1a1a">2</text><text x="74" y="889" font-size="8.4" fill="#1a1a1a">9</text><text x="99" y="889" font-size="8.4" fill="#1a1a1a">16</text><text x="124" y="889" font-size="8.4" fill="#1a1a1a">23</text><text x="149" y="889" font-size="8.4" fill="#1a1a1a">30</text><text x="174" y="889" font-size="8.4" fill="#1a1a1a">7</text><text x="199" y="889" font-size="8.4" fill="#1a1a1a">14</text><text x="224" y="889" font-size="8.4" fill="#1a1a1a">21</text><text x="249" y="889" font-size="8.4" fill="#1a1a1a">28</text><text x="274" y="889" font-size="8.4" fill="#1a1a1a">4</text><text x="299" y="889" font-size="8.4" fill="#1a1a1a">11</text><text x="324" y="889" font-size="8.4" fill="#1a1a1a">18</text><text x="349" y="889" font-size="8.4" fill="#1a1a1a">25</text><text x="374" y="889" font-size="8.4" fill="#1a1a1a">2</text><text x="399" y="889" font-size="8.4" fill="#1a1a1a">9</text><text x="424" y="889" font-size="8.4" fill="#1a1a1a">16</text><text x="449" y="889" font-size="8.4" fill="#1a1a1a">23</text><text x="474" y="889" font-size="8.4" fill="#1a1a1a">6</text><text x="499" y="889" font-size="8.4" fill="#1a1a1a">13</text><text x="524" y="889" font-size="8.4" fill="#1a1a1a">20</text><text x="549" y="889" font-size="8.4" fill="#1a1a1a">27</text><text x="574" y="889" font-size="8.4" fill="#1a1a1a">3</text><text x="599" y="889" font-size="8.4" fill="#1a1a1a">10</text><text x="624" y="889" font-size="8.4" fill="#1a1a1a">17</text><text x="649" y="889" font-size="8.4" fill="#1a1a1a">24</text><text x="674" y="889" font-size="8.4" fill="#1a1a1a">3</text><text x="699" y="889" font-size="8.4" fill="#1a1a1a">10</text><text x="724" y="889" font-size="8.4" fill="#1a1a1a">17</text><text x="749" y="889" font-size="8.4" fill="#1a1a1a">24</text><text x="774" y="889" font-size="8.4" fill="#1a1a1a">31</text><text x="799" y="889" font-size="8.4" fill="#1a1a1a">7</text><text x="824" y="889" font-size="8.4" fill="#1a1a1a">14</text><text x="844" y="889" font-size="8.4" fill="#1a1a1a">22</text><text x="864" y="889" font-size="8.4" fill="#1a1a1a">28</text><text x="884" y="889" font-size="8.4" fill="#1a1a1a">5</text><text x="909" y="889" font-size="8.4" fill="#1a1a1a">12</text><text x="934" y="889" font-size="8.4" fill="#1a1a1a">19</text><text x="959" y="889" font-size="8.4" fill="#1a1a1a">26</text><text x="984" y="889" font-size="8.4" fill="#1a1a1a">2</text><text x="1009" y="889" font-size="8.4" fill="#1a1a1a">9</text><text x="1034" y="889" font-size="8.4" fill="#1a1a1a">16</text><text x="1059" y="889" font-size="8.4" fill="#1a1a1a">23</text><text x="1084" y="889" font-size="8.4" fill="#1a1a1a">30</text><text x="1109" y="889" font-size="8.4" fill="#1a1a1a">7</text><text x="1134" y="889" font-size="8.4" fill="#1a1a1a">14</text><text x="1159" y="889" font-size="8.4" fill="#1a1a1a">21</text><text x="1184" y="889" font-size="8.4" fill="#1a1a1a">28</text><text x="1209" y="889" font-size="8.4" fill="#1a1a1a">4</text><text x="1234" y="889" font-size="8.4" fill="#1a1a1a">11</text><text x="1254" y="889" font-size="8.4" fill="#1a1a1a">18</text><text x="1279" y="889" font-size="8.4" fill="#1a1a1a">25</text><text x="1304" y="889" font-size="8.4" fill="#1a1a1a">1</text><text x="1329" y="889" font-size="8.4" fill="#1a1a1a">8</text><text x="1354" y="889" font-size="8.4" fill="#1a1a1a">15</text><text x="1379" y="889" font-size="8.4" fill="#1a1a1a">22</text><text x="1404" y="889" font-size="8.4" fill="#1a1a1a">29</text><text x="1429" y="889" font-size="8.4" fill="#1a1a1a">6</text><text x="1454" y="889" font-size="8.4" fill="#1a1a1a">13</text><text x="1479" y="889" font-size="8.4" fill="#1a1a1a">20</text><text x="1504" y="889" font-size="8.4" fill="#1a1a1a">27</text><text x="1529" y="889" font-size="8.4" fill="#1a1a1a">3</text><text x="1554" y="889" font-size="8.4" fill="#1a1a1a">10</text><text x="1579" y="889" font-size="8.4" fill="#1a1a1a">17</text><text x="1604" y="889" font-size="8.4" fill="#1a1a1a">24</text><text x="1629" y="889" font-size="8.4" fill="#1a1a1a">1</text><text x="1654" y="889" font-size="8.4" fill="#1a1a1a">8</text><text x="1679" y="889" font-size="8.4" fill="#1a1a1a">15</text><text x="1704" y="889" font-size="8.4" fill="#1a1a1a">22</text><text x="1729" y="889" font-size="8.4" fill="#1a1a1a">5</text><text x="1754" y="889" font-size="8.4" fill="#1a1a1a">12</text><text x="1779" y="889" font-size="8.4" fill="#1a1a1a">19</text><text x="1804" y="889" font-size="8.4" fill="#1a1a1a">26</text><text x="1829" y="889" font-size="8.4" fill="#1a1a1a">2</text><text x="1854" y="889" font-size="8.4" fill="#1a1a1a">9</text><text x="49" y="899.5" font-size="8.4" fill="#1a1a1a">September</text><text x="154" y="899.5" font-size="8.4" fill="#1a1a1a">October</text><text x="269" y="899.5" font-size="8.4" fill="#1a1a1a">November</text><text x="374" y="899.5" font-size="8.4" fill="#1a1a1a">December</text><text x="464" y="899.5" font-size="8.4" fill="#1a1a1a">2025</text><text x="574" y="899.5" font-size="8.4" fill="#1a1a1a">February</text><text x="674" y="899.5" font-size="8.4" fill="#1a1a1a">March</text><text x="779" y="899.5" font-size="8.4" fill="#1a1a1a">April</text><text x="879" y="899.5" font-size="8.4" fill="#1a1a1a">May</text><text x="984" y="899.5" font-size="8.4" fill="#1a1a1a">June</text><text x="1089" y="899.5" font-size="8.4" fill="#1a1a1a">July</text><text x="1204" y="899.5" font-size="8.4" fill="#1a1a1a">August</text><text x="1304" y="899.5" font-size="8.4" fill="#1a1a1a">September</text><text x="1414" y="899.5" font-size="8.4" fill="#1a1a1a">October</text><text x="1529" y="899.5" font-size="8.4" fill="#1a1a1a">November</text><text x="1629" y="899.5" font-size="8.4" fill="#1a1a1a">December</text><text x="1724" y="899.5" font-size="8.4" fill="#1a1a1a">2026</text><text x="1829" y="899.5" font-size="8.4" fill="#1a1a1a">February</text>
</g>
</svg></body></html>
